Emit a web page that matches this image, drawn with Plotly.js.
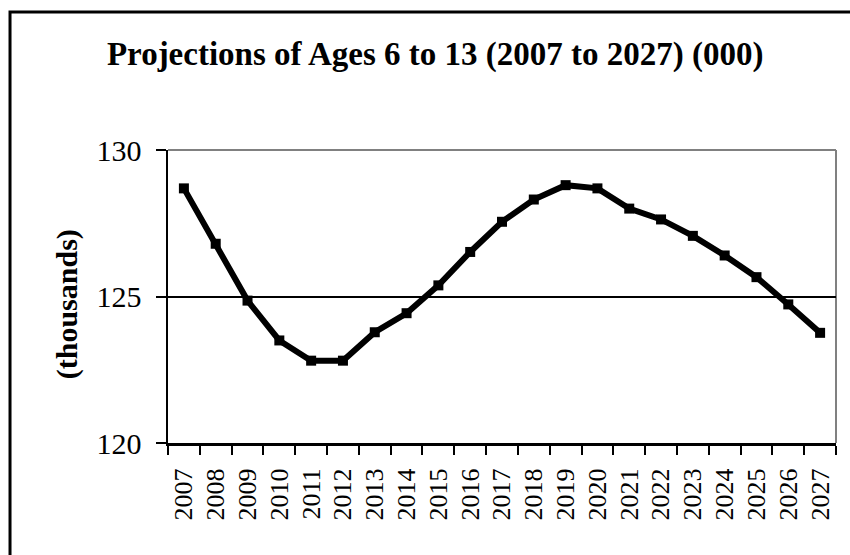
<!DOCTYPE html>
<html>
<head>
<meta charset="utf-8">
<script src="https://cdn.plot.ly/plotly-3.0.1.min.js"></script>
<style>html,body{margin:0;padding:0;background:#fff;}#chart{width:850px;height:555px;}</style>
</head>
<body>
<div id="chart"></div>
<script>
const years = ["2007","2008","2009","2010","2011","2012","2013","2014","2015","2016","2017","2018","2019","2020","2021","2022","2023","2024","2025","2026","2027"];
const population = [128.69,126.8,124.86,123.5,122.81,122.81,123.78,124.43,125.38,126.52,127.55,128.31,128.8,128.69,128.0,127.63,127.07,126.4,125.66,124.73,123.76];
const yTicks = [120,125,130];
const titleText = "Projections of Ages 6 to 13 (2007 to 2027) (000)";
const yTitle = "(thousands)";

const ff = "Liberation Serif, Times New Roman, serif";
const trace = {
  x: years, y: population, type: "scatter", mode: "lines+markers",
  line: {color: "#000", width: 6},
  marker: {symbol: "square", size: 10, color: "#000"},
  hoverinfo: "skip", cliponaxis: false
};
const layout = {
  width: 850, height: 555,
  margin: {l: 168, r: 14, t: 150, b: 112},
  paper_bgcolor: "#fff", plot_bgcolor: "#fff",
  showlegend: false,
  font: {family: ff, color: "#000"},
  title: {text: "<b>" + titleText + "</b>", font: {family: ff, size: 33, color: "#000"},
          x: 0.512, xanchor: "center", y: 0.9045, yanchor: "middle", xref: "container", yref: "container"},
  xaxis: {
    type: "category", tickangle: -90, tickfont: {family: ff, size: 26, color: "#000"},
    showgrid: false, zeroline: false, showline: true, linecolor: "#000", linewidth: 3,
    ticks: "outside", ticklen: 9, tickwidth: 2, tickcolor: "#000", tickson: "boundaries",
    ticklabelstandoff: 12,
    range: [-0.5, 20.5], fixedrange: true
  },
  yaxis: {
    range: [120, 130], tickvals: yTicks, ticktext: yTicks.map(String),
    tickfont: {family: ff, size: 30, color: "#000"},
    showgrid: true, gridcolor: "#000", gridwidth: 2, zeroline: false,
    showline: true, linecolor: "#000", linewidth: 2.5,
    ticks: "outside", ticklen: 10, tickwidth: 2, tickcolor: "#000",
    ticklabelstandoff: 8, fixedrange: true
  },
  shapes: [
    {type: "line", xref: "paper", yref: "paper", x0: 0, x1: 1, y0: 1, y1: 1, line: {color: "#808080", width: 2}, layer: "below"},
    {type: "line", xref: "paper", yref: "paper", x0: 1, x1: 1, y0: 0, y1: 1, line: {color: "#808080", width: 2}, layer: "below"},
    {type: "rect", xref: "paper", yref: "paper", x0: -0.2365, x1: 1.05, y0: -0.6, y1: 1.471,
     line: {color: "#000", width: 3}, fillcolor: "rgba(0,0,0,0)"}
  ],
  annotations: [
    {text: "<b>" + yTitle + "</b>", xref: "paper", yref: "paper", x: -0.151, y: 0.474,
     textangle: -90, showarrow: false, xanchor: "center", yanchor: "middle",
     font: {family: ff, size: 30, color: "#000"}}
  ]
};
Plotly.newPlot("chart", [trace], layout, {displayModeBar: false, staticPlot: true});
</script>
</body>
</html>
